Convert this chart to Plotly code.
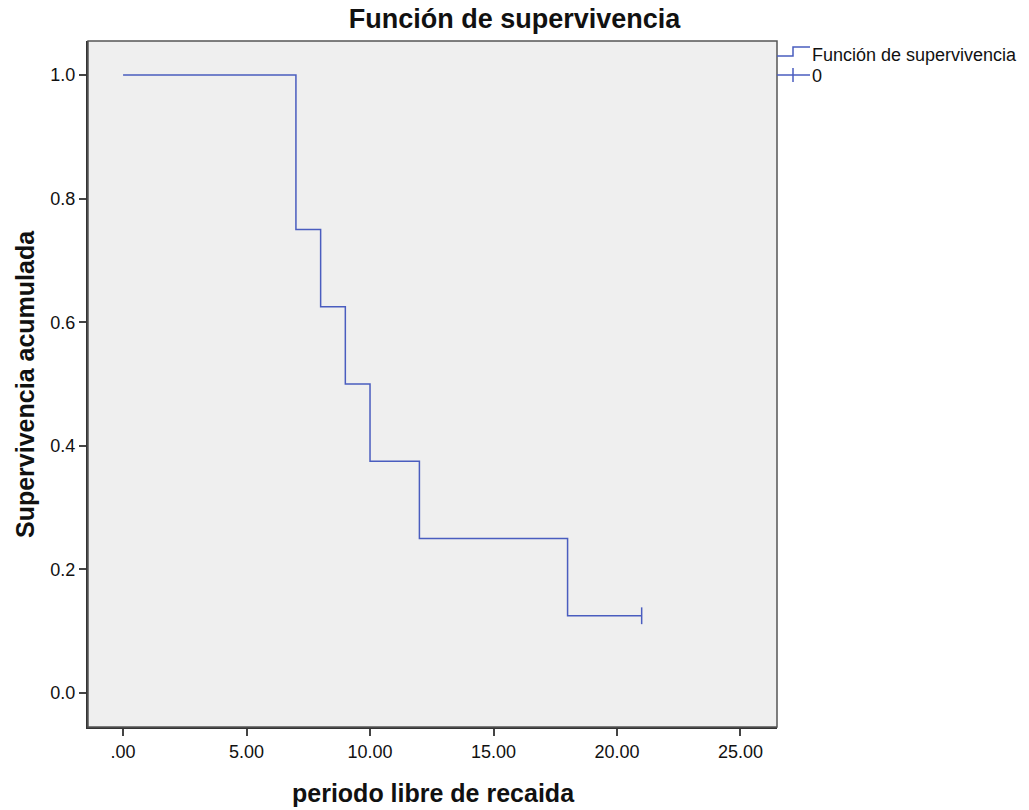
import plotly.graph_objects as go

# Data
times = [0, 7, 8, 9, 10, 12, 18, 21]
survival = [1.0, 0.75, 0.625, 0.5, 0.375, 0.25, 0.125, 0.125]
censor_times = [21]
censor_surv = [0.125]
x_ticks = [0, 5, 10, 15, 20, 25]
x_ticklabels = [".00", "5.00", "10.00", "15.00", "20.00", "25.00"]
y_ticks = [0.0, 0.2, 0.4, 0.6, 0.8, 1.0]
y_ticklabels = ["0.0", "0.2", "0.4", "0.6", "0.8", "1.0"]

W, H = 1029, 810
L, R, T, B = 88, 777, 41, 727
LINE = "#4a5dbf"
FONT = "Liberation Sans, Arial, sans-serif"

def px(x):
    return (x - L) / (R - L)

def py(y):
    return (B - y) / (B - T)

fig = go.Figure()
fig.add_trace(go.Scatter(x=times, y=survival, mode="lines", line=dict(color=LINE, width=1.5, shape="hv"),
                         name="Función de supervivencia", showlegend=False, hoverinfo="x+y"))
fig.add_trace(go.Scatter(x=censor_times, y=censor_surv, mode="markers",
                         marker=dict(symbol="line-ns", size=12, line=dict(color=LINE, width=1.5)),
                         name="0", showlegend=False))

shapes = [
    dict(type="rect", xref="paper", yref="paper", x0=0, x1=1, y0=0, y1=1,
         line=dict(color="#555555", width=1.5), layer="above"),
    # legend glyph 1 (step)
    dict(type="path", xref="paper", yref="paper",
         path=f"M {px(777)} {py(56)} L {px(793)} {py(56)} L {px(793)} {py(47)} L {px(810)} {py(47)}",
         line=dict(color=LINE, width=1.5)),
    # legend glyph 2 (censor)
    dict(type="line", xref="paper", yref="paper", x0=px(777), x1=px(810), y0=py(75), y1=py(75),
         line=dict(color=LINE, width=1.5)),
    dict(type="line", xref="paper", yref="paper", x0=px(793), x1=px(793), y0=py(68), y1=py(82),
         line=dict(color=LINE, width=1.5)),
]

annotations = [
    dict(text="Función de supervivencia", xref="paper", yref="paper", x=px(810), y=py(55),
         xanchor="left", yanchor="middle", showarrow=False, font=dict(size=18, color="#111", family=FONT)),
    dict(text="0", xref="paper", yref="paper", x=px(810), y=py(76),
         xanchor="left", yanchor="middle", showarrow=False, font=dict(size=18, color="#111", family=FONT)),
    dict(text="<b>periodo libre de recaida</b>", xref="paper", yref="paper", x=px(433), y=py(793),
         xanchor="center", yanchor="middle", showarrow=False, font=dict(size=25, color="#111", family=FONT)),
    dict(text="<b>Supervivencia acumulada</b>", xref="paper", yref="paper", x=px(25), y=py(384),
         xanchor="center", yanchor="middle", textangle=-90, showarrow=False,
         font=dict(size=25, color="#111", family=FONT)),
]

fig.update_layout(
    width=W, height=H,
    margin=dict(l=L, r=W - R, t=T, b=H - B),
    paper_bgcolor="white",
    plot_bgcolor="#efefef",
    font=dict(family=FONT, size=18, color="#111"),
    title=dict(text="<b>Función de supervivencia</b>", x=0.5, xref="container", xanchor="center",
               y=1 - 19 / H, yref="container", yanchor="middle", font=dict(size=27, color="#111", family=FONT)),
    showlegend=False,
    shapes=shapes,
    annotations=annotations,
    xaxis=dict(range=[-1.42, 26.48], tickvals=x_ticks, ticktext=x_ticklabels, showgrid=False, zeroline=False,
               ticks="outside", ticklen=7, tickwidth=2, tickcolor="#444", showline=True, linecolor="#333", linewidth=2,
               tickfont=dict(size=18)),
    yaxis=dict(range=[-0.055, 1.055], tickvals=y_ticks, ticktext=y_ticklabels, showgrid=False, zeroline=False,
               ticks="outside", ticklen=7, tickwidth=2, tickcolor="#444", showline=True, linecolor="#333", linewidth=2,
               tickfont=dict(size=18)),
)

fig.write_html("out.html")
